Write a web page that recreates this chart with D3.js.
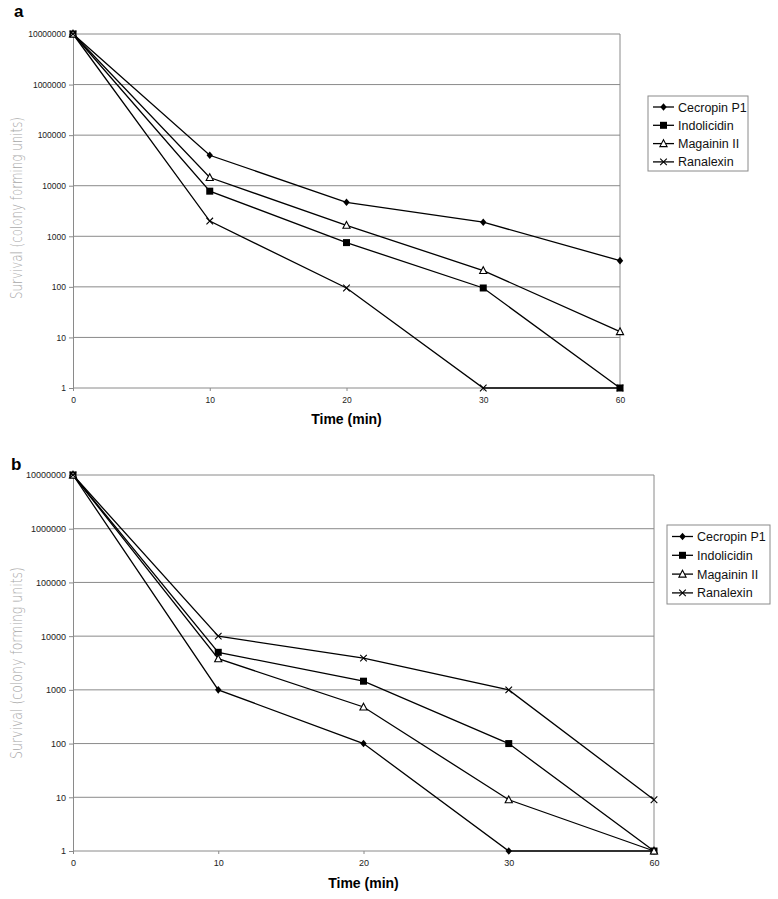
<!DOCTYPE html>
<html>
<head>
<meta charset="utf-8">
<script src="https://cdn.jsdelivr.net/npm/d3@7"></script>
<style>
  html, body { margin: 0; padding: 0; background: #fff; }
  svg { display: block; }
</style>
</head>
<body>
<svg id="chart" width="778" height="899"></svg>
<script>
// ---- Data ----
const timeLabels = ["0", "10", "20", "30", "60"];
const seriesNames = ["Cecropin P1", "Indolicidin", "Magainin II", "Ranalexin"];
const yTickValues = [1, 10, 100, 1000, 10000, 100000, 1000000, 10000000];

// Panel a
const aCecropin    = [10000000, 40000, 4700, 1900, 330];
const aIndolicidin = [10000000, 7800, 750, 95, 1];
const aMagainin    = [10000000, 14500, 1650, 210, 13];
const aRanalexin   = [10000000, 2000, 95, 1, 1];

// Panel b
const bCecropin    = [10000000, 1000, 100, 1, 1];
const bIndolicidin = [10000000, 5000, 1450, 100, 1];
const bMagainin    = [10000000, 3800, 480, 9, 1];
const bRanalexin   = [10000000, 10000, 3900, 1000, 9];

const markerTypes = ["diamond", "square", "triangle", "cross"];

const svg = d3.select("#chart");

function drawMarker(g, type, x, y) {
  if (type === "diamond") {
    g.append("path").attr("d", `M${x},${y-3.8}L${x+3.2},${y}L${x},${y+3.8}L${x-3.2},${y}Z`)
      .attr("fill", "#000");
  } else if (type === "square") {
    g.append("rect").attr("x", x - 3.5).attr("y", y - 3.5).attr("width", 7).attr("height", 7)
      .attr("fill", "#000");
  } else if (type === "triangle") {
    g.append("path").attr("d", `M${x},${y-3.8}L${x+3.6},${y+3}L${x-3.6},${y+3}Z`)
      .attr("fill", "#fff").attr("stroke", "#000").attr("stroke-width", 1.1);
  } else if (type === "cross") {
    g.append("path").attr("d", `M${x-3.3},${y-3.3}L${x+3.3},${y+3.3}M${x-3.3},${y+3.3}L${x+3.3},${y-3.3}`)
      .attr("stroke", "#000").attr("stroke-width", 1.1);
  }
}

function drawPanel(cfg) {
  const g = svg.append("g");
  const x = d3.scalePoint().domain(timeLabels).range([cfg.x0, cfg.x1]);
  const y = d3.scaleLog().domain([1, 10000000]).range([cfg.yBottom, cfg.yTop]);

  // panel letter
  g.append("text").attr("x", cfg.letterX).attr("y", cfg.letterY)
    .attr("font-family", "Liberation Sans, Arial, sans-serif")
    .attr("font-weight", "bold").attr("font-size", 17).text(cfg.letter);

  // gridlines
  g.append("g").selectAll("line").data(yTickValues).join("line")
    .attr("x1", cfg.x0).attr("x2", cfg.x1)
    .attr("y1", d => y(d)).attr("y2", d => y(d))
    .attr("stroke", "#8a8a8a").attr("stroke-width", 1);

  // right border
  g.append("line").attr("x1", cfg.x1).attr("x2", cfg.x1)
    .attr("y1", y(10000000)).attr("y2", y(1))
    .attr("stroke", "#8a8a8a").attr("stroke-width", 1);

  // Y axis
  const yAxis = d3.axisLeft(y).tickValues(yTickValues).tickFormat(d3.format("d"))
    .tickSize(4).tickPadding(3);
  const ya = g.append("g").attr("transform", `translate(${cfg.x0},0)`).call(yAxis);
  ya.selectAll("path,line").attr("stroke", "#8a8a8a");
  ya.selectAll("text").attr("font-family", "Liberation Sans, Arial, sans-serif")
    .attr("font-size", cfg.tickFont).attr("fill", "#222");

  // X axis
  const xAxis = d3.axisBottom(x).tickSize(3).tickPadding(6);
  const xa = g.append("g").attr("transform", `translate(0,${cfg.yBottom})`).call(xAxis);
  xa.select(".domain").remove();
  xa.selectAll("line").attr("stroke", "#8a8a8a");
  xa.selectAll("text").attr("font-family", "Liberation Sans, Arial, sans-serif")
    .attr("font-size", cfg.tickFont).attr("fill", "#222");

  // X title
  g.append("text").attr("x", x("20")).attr("y", cfg.xTitleY)
    .attr("text-anchor", "middle")
    .attr("font-family", "Liberation Sans, Arial, sans-serif")
    .attr("font-weight", "bold").attr("font-size", 14).text("Time (min)");

  // Y title
  g.append("text")
    .attr("transform", `translate(${cfg.yTitleX},${cfg.yTitleY}) rotate(-90)`)
    .attr("text-anchor", "middle")
    .attr("font-family", "DejaVu Sans, sans-serif")
    .attr("font-weight", 200).attr("font-size", 16)
    .attr("fill", "#a8a8a8")
    .attr("textLength", cfg.yTitleLen).attr("lengthAdjust", "spacingAndGlyphs")
    .text("Survival (colony forming units)");

  // series
  const line = d3.line().x((d, i) => x(timeLabels[i])).y(d => y(d));
  cfg.series.forEach((vals, si) => {
    g.append("path").datum(vals).attr("d", line)
      .attr("fill", "none").attr("stroke", "#000").attr("stroke-width", 1.3);
  });
  cfg.series.forEach((vals, si) => {
    vals.forEach((v, i) => drawMarker(g, markerTypes[si], x(timeLabels[i]), y(v)));
  });

  // legend
  const L = cfg.legend;
  g.append("rect").attr("x", L.x).attr("y", L.y).attr("width", L.w).attr("height", L.h)
    .attr("fill", "#fff").attr("stroke", "#8a8a8a").attr("stroke-width", 1);
  seriesNames.forEach((name, i) => {
    const ly = L.y + L.first + i * L.step;
    g.append("line").attr("x1", L.x + 5).attr("x2", L.x + 26).attr("y1", ly).attr("y2", ly)
      .attr("stroke", "#000").attr("stroke-width", 1.3);
    drawMarker(g, markerTypes[i], L.x + 15.5, ly);
    g.append("text").attr("x", L.x + 30).attr("y", ly).attr("dy", "0.36em")
      .attr("font-family", "Liberation Sans, Arial, sans-serif")
      .attr("font-size", 12.5).attr("fill", "#111").text(name);
  });
}

drawPanel({
  letter: "a", letterX: 14, letterY: 17,
  x0: 73, x1: 620, yTop: 34, yBottom: 388,
  tickFont: 8.5, xTitleY: 424,
  yTitleX: 22, yTitleY: 208, yTitleLen: 182,
  series: [aCecropin, aIndolicidin, aMagainin, aRanalexin],
  legend: { x: 648, y: 96, w: 100, h: 75, first: 11, step: 18.3 }
});

drawPanel({
  letter: "b", letterX: 11, letterY: 470,
  x0: 73, x1: 654, yTop: 475, yBottom: 851,
  tickFont: 9, xTitleY: 888,
  yTitleX: 22, yTitleY: 663, yTitleLen: 192,
  series: [bCecropin, bIndolicidin, bMagainin, bRanalexin],
  legend: { x: 667, y: 525, w: 103, h: 79, first: 11.5, step: 18.8 }
});
</script>
</body>
</html>
